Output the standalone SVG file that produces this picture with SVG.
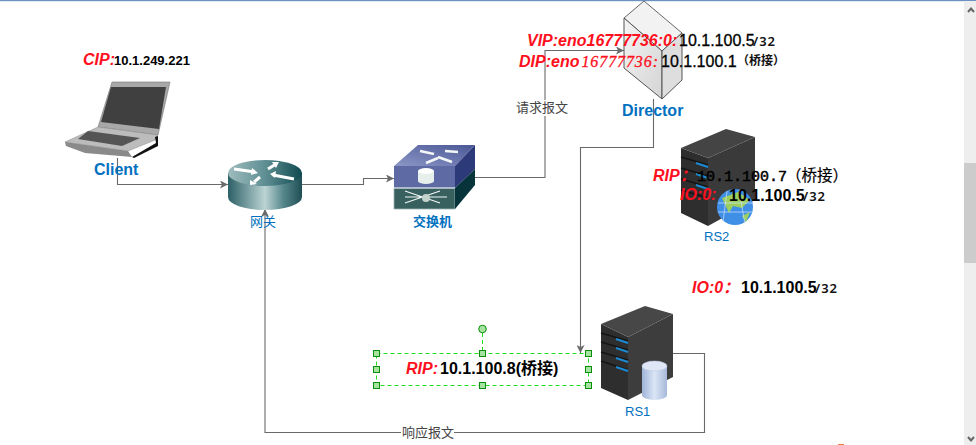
<svg xmlns="http://www.w3.org/2000/svg" width="976" height="445" viewBox="0 0 976 445">
<style>
text{font-family:"Liberation Sans","Noto Sans CJK SC",sans-serif}
.red{fill:#ff1020;font-weight:bold;font-style:italic;font-size:16px}
.val{fill:#000;font-weight:bold;font-size:16px}
.sm{fill:#111;font-weight:600;font-size:13px;letter-spacing:1px;font-family:"Noto Sans","Noto Sans CJK SC",sans-serif}
.cjk{fill:#111;font-weight:bold;font-size:12px}
.lb{fill:#0070c0;font-size:13px}
.lbb{fill:#0070c0;font-size:16px;font-weight:bold}
.conn{fill:none;stroke:#696969;stroke-width:1.1}
.cl{fill:#444;font-size:13px}
.h{fill:#a6e3a0;stroke:#0a8f0a;stroke-width:1}
.sel{fill:none;stroke:#1fdc1f;stroke-width:1;stroke-dasharray:4 3}
.w{fill:#fff}
</style>
<defs>
<marker id="arr" markerWidth="10" markerHeight="8" refX="8" refY="4" orient="auto" markerUnits="userSpaceOnUse"><path d="M0,0L8,4L0,8L2,4Z" fill="#696969"/></marker>
<linearGradient id="rt" x1="0" x2="1" y1="0" y2="0"><stop offset="0" stop-color="#2c6066"/><stop offset=".5" stop-color="#bcd4d4"/><stop offset=".75" stop-color="#55868a"/><stop offset="1" stop-color="#1f4f55"/></linearGradient>
<linearGradient id="rtop" x1="0" x2="1" y1="0" y2="0"><stop offset="0" stop-color="#9fbcbe"/><stop offset=".5" stop-color="#5f8f93"/><stop offset="1" stop-color="#0f4a50"/></linearGradient>
<linearGradient id="sw" x1="0" x2="1" y1="1" y2="0"><stop offset="0" stop-color="#8c97c6"/><stop offset="1" stop-color="#4a5796"/></linearGradient>
<linearGradient id="dir" x1="0" x2="1" y1="0" y2="1"><stop offset="0" stop-color="#f4f4f4"/><stop offset="1" stop-color="#d4d4d4"/></linearGradient>
<linearGradient id="cyl" x1="0" x2="1" y1="0" y2="0"><stop offset="0" stop-color="#9fb4d8"/><stop offset=".5" stop-color="#dbe5f5"/><stop offset="1" stop-color="#a6b8da"/></linearGradient>
</defs>
<rect width="976" height="445" fill="#fff"/>
<rect width="976" height="1.2" fill="#6a93c4"/>
<rect x="838" y="444" width="6" height="1" fill="#e9814f"/>
<g id="scrollbar">
<rect x="964" y="1" width="12" height="444" fill="#eee"/>
<rect x="964" y="163" width="12" height="100" fill="#ccc"/>
<path d="M968,12L971,8.500L974,12" fill="none" stroke="#666" stroke-width="2"/>
<path d="M968,437L971,440.500L974,437" fill="none" stroke="#666" stroke-width="2"/>
</g>
<g id="connectors">
<path class="conn" marker-end="url(#arr)" d="M117.500,158V184.500H228"/>
<path class="conn" marker-end="url(#arr)" d="M302,184.500H363.500V178.500H394"/>
<path class="conn" marker-end="url(#arr)" d="M475,177.500H545V50.500H624"/>
<path class="conn" marker-end="url(#arr)" d="M653.500,99V147.500H580.500V353"/>
<path class="conn" marker-end="url(#arr)" d="M673,353.500H704.500V432.500H265V209"/>
</g>
<g id="client">
<path d="M112,82L170,82L158,135L98,127Z" fill="#a8a8a8" stroke="#777" stroke-width=".6"/>
<path d="M111,87L166,87L159,129L101,122Z" fill="#404040"/>
<path d="M98,127L158,135L155,140L128,151L65,142Z" fill="#bcbcbc" stroke="#888" stroke-width=".5"/>
<path d="M88,131L140,138L122,146L78,139Z" fill="#555"/>
<path d="M65,142L128,151L132,157L85,153L66,146Z" fill="#8a8a8a"/>
<path d="M132,157L156,143L155,137L158,136L158,146L134,158Z" fill="#111"/>
<text class="red" x="83" y="65">CIP:</text>
<text class="val" x="114" y="65" style="font-size:13px">10.1.249.221</text>
<text class="lbb" x="94" y="175">Client</text>
</g>
<g id="gateway">
<path d="M228,173V197A37,13 0 0 0 302,197V173Z" fill="url(#rt)"/>
<ellipse cx="265" cy="173" rx="37" ry="13" fill="url(#rtop)"/>
<path d="M234,169L255,172" stroke="#fff" stroke-width="3" fill="none"/><path d="M252,168L258,173L251,175Z" fill="#fff"/>
<path d="M268,169L276,164" stroke="#fff" stroke-width="3" fill="none"/><path d="M272,162L279,162L276,168Z" fill="#fff"/>
<path d="M273,175L294,179" stroke="#fff" stroke-width="3" fill="none"/><path d="M276,171L270,174L275,178Z" fill="#fff"/>
<path d="M260,177L254,182" stroke="#fff" stroke-width="3" fill="none"/><path d="M250,180L250,185L257,184Z" fill="#fff"/>
<text class="lb" x="250" y="226">网关</text>
</g>
<g id="switch">
<path d="M418,145H475L455,166H394Z" fill="url(#sw)"/>
<path d="M394,166H455V188H394Z" fill="#5e6aa4"/>
<path d="M455,166L475,145V169L455,188Z" fill="#2c3a7a"/>
<path d="M394,188H455V209H394Z" fill="#38605f" stroke="#9fb4b4" stroke-width=".8"/>
<path d="M455,188L475,169V185L455,209Z" fill="#06343a"/>
<path d="M394,188H455" stroke="#c2cbd8" stroke-width="1.500"/>
<path d="M418,171V181A8,3 0 0 0 434,181V171Z" fill="#e6efec"/><ellipse cx="426" cy="171" rx="8" ry="3" fill="#fff"/>
<path d="M420,151L434,154M426,163L438,158M445,151L458,152M438,157L452,162" stroke="#f2f6f6" stroke-width="2.500" fill="none"/>
<path d="M405,197H447M405,191L440,203M405,203L440,191" stroke="#f2f6f6" stroke-width="1.200" fill="none"/>
<circle cx="426" cy="198" r="4" fill="#c4d2cc"/>
<text class="lb" x="413" y="226" style="font-weight:bold">交换机</text>
</g>
<g id="director">
<path d="M644,1L682,33L662,51L624,18Z" fill="#f2f2f2" stroke="#666"/>
<path d="M624,18L662,51V99L624,68Z" fill="url(#dir)" stroke="#555"/>
<path d="M662,51L682,33V80L662,99Z" fill="#dedede" stroke="#555"/>
<text class="red" x="527" y="46">VIP:eno16777736:0:</text>
<text class="val" x="679" y="46" style="font-weight:normal;stroke:#000;stroke-width:.3">10.1.100.5</text>
<text class="sm" x="753" y="46">/32</text>
<text class="red" x="519" y="67">DIP:eno<tspan style="font-family:'Liberation Serif',serif;font-weight:normal;stroke:#ff1020;stroke-width:.3;letter-spacing:.9px" dx="2">16777736:</tspan></text>
<text class="val" x="661" y="67" style="font-weight:normal;stroke:#000;stroke-width:.3">10.1.100.1</text>
<text class="cjk" x="737" y="65">（桥接）</text>
<text class="lbb" x="622" y="116">Director</text>
</g>
<g id="rs2">
<path d="M681,148L708,158V226L681,213Z" fill="#2e2e2e"/>
<path d="M708,158L755,137V200L708,226Z" fill="#3a3a3a"/>
<path d="M726,129L755,137L708,158L681,148Z" fill="#444"/>
<path d="M681,157L708,165M681,168L708,176M681,179L708,187M681,190L708,198" stroke="#151515" stroke-width="1.500"/>
<path d="M696,163L708,167M696,174L708,178M696,185L708,189" stroke="#1b8ad2" stroke-width="2"/>
<circle cx="735" cy="207" r="18" fill="#3f8fe6"/>
<path d="M722,198L738,192L750,200L742,208L733,206L729,213Z" fill="#9ccf5e"/>
<path d="M742,216L750,212L746,222Z" fill="#9ccf5e"/>
<path d="M718,203L752,203M718,212L752,212M727,191L723,222M739,190L745,224" stroke="#cfe4ff" stroke-width=".7"/>
<text class="red" x="653" y="181">RIP：</text>
<text x="697" y="181" style="font-family:'Liberation Mono',monospace;font-size:15px;fill:#000;stroke:#000;stroke-width:.5">10.1.100.7</text>
<text x="786" y="181" style="font-size:15.500px;fill:#000;stroke:#000;stroke-width:.2">（桥接）</text>
<text class="red" x="680" y="200">IO:0:</text>
<text class="val" x="729" y="201">10.1.100.5</text>
<text class="sm" x="803" y="201">/32</text>
<text class="lb" x="704" y="241">RS2</text>
</g>
<g id="rs2-io">
<text class="red" x="692" y="293">IO:0：</text>
<text class="val" x="741" y="293">10.1.100.5</text>
<text class="sm" x="815" y="293">/32</text>
</g>
<g id="rs1">
<path d="M601,324L628,337V400L601,388Z" fill="#2e2e2e"/>
<path d="M628,337L673,314V377L628,400Z" fill="#3d3d3d"/>
<path d="M645,306L673,314L628,337L601,324Z" fill="#474747"/>
<path d="M601,333L628,341M601,342L628,350M601,352L628,360M601,361L628,370" stroke="#151515" stroke-width="1.500"/>
<path d="M616,339L628,343M616,348L628,352M616,358L628,362M616,367L628,371" stroke="#1b8ad2" stroke-width="2"/>
<path d="M642,366V395A12.500,5 0 0 0 667,395V366Z" fill="url(#cyl)"/>
<ellipse cx="654.500" cy="366" rx="12.500" ry="5" fill="#dfe7f6" stroke="#b5c4df" stroke-width=".5"/>
<text class="lb" x="625" y="416">RS1</text>
</g>
<g id="selection">
<path class="sel" d="M482.500,333V353"/>
<rect class="sel" x="376.500" y="353.500" width="212" height="32"/>
<circle class="h" cx="482.500" cy="329" r="3.800"/>
<rect class="h" x="373.500" y="350.500" width="6" height="6"/><rect class="h" x="479.500" y="350.500" width="6" height="6"/><rect class="h" x="585.500" y="350.500" width="6" height="6"/>
<rect class="h" x="373.500" y="366.500" width="6" height="6"/><rect class="h" x="585.500" y="366.500" width="6" height="6"/>
<rect class="h" x="373.500" y="382.500" width="6" height="6"/><rect class="h" x="479.500" y="382.500" width="6" height="6"/><rect class="h" x="585.500" y="382.500" width="6" height="6"/>
<text class="red" x="406" y="374">RIP:</text>
<text class="val" x="440" y="374">10.1.100.8(桥接)</text>
</g>
<g id="connector-labels">
<rect class="w" x="516" y="100" width="52" height="16"/>
<text class="cl" x="516" y="112">请求报文</text>
<rect class="w" x="401" y="425" width="53" height="15"/>
<text class="cl" x="402" y="437">响应报文</text>
</g>
</svg>
